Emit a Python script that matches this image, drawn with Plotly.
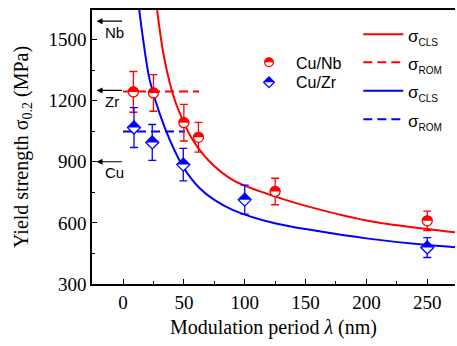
import plotly.graph_objects as go

# ---------------- data ----------------
lam_nb = [8.5, 25, 50, 62, 125, 250]
sig_nb = [1243, 1238, 1092, 1020, 754, 610]
err_nb = [100, 90, 90, 73, 65, 48]

lam_zr = [9, 24, 49.5, 100, 250]
sig_zr = [1068, 995, 886, 714, 479]
err_zr = [98, 88, 80, 71, 49]

cls_nb_x = [28, 34.3, 42.5, 49.3, 56.2, 69.9, 90.4, 124.7, 145, 200, 250, 275]
cls_nb_y = [1645, 1395, 1203, 1102, 1018, 909, 810, 730, 692, 612, 570, 552]

cls_zr_x = [13.3, 16.4, 21.9, 30.2, 38.4, 49.3, 63, 75, 90.4, 124.7, 160, 200, 250, 275]
cls_zr_y = [1645, 1506, 1302, 1135, 1007, 876, 770, 713, 663, 598, 560, 524, 491, 480]

rom_nb_x = [0, 62.5]
rom_nb_y = [1245, 1245]
rom_zr_x = [0, 51]
rom_zr_y = [1048, 1048]

ref_labels = ["Nb", "Zr", "Cu"]
ref_vals = [1590, 1250, 900]

x_ticks = [0, 50, 100, 150, 200, 250]
y_ticks = [300, 600, 900, 1200, 1500]

RED = "#FF0000"
BLUE = "#0000FF"
SERIF = "Liberation Serif"
SANS = "Liberation Sans"

fig = go.Figure()

# ROM dashed lines
fig.add_trace(go.Scatter(x=rom_nb_x, y=rom_nb_y, mode="lines",
                         line=dict(color=RED, width=2, dash="9px,5px"), showlegend=False))
fig.add_trace(go.Scatter(x=rom_zr_x, y=rom_zr_y, mode="lines",
                         line=dict(color=BLUE, width=2, dash="9px,5px"), showlegend=False))
# CLS curves
fig.add_trace(go.Scatter(x=cls_nb_x, y=cls_nb_y, mode="lines", line_shape="spline",
                         line=dict(color=RED, width=2), showlegend=False))
fig.add_trace(go.Scatter(x=cls_zr_x, y=cls_zr_y, mode="lines", line_shape="spline",
                         line=dict(color=BLUE, width=2), showlegend=False))
# data points with error bars (open markers)
fig.add_trace(go.Scatter(x=lam_nb, y=sig_nb, mode="markers",
                         marker=dict(symbol="circle", size=10, color="white",
                                     line=dict(color=RED, width=1.3)),
                         error_y=dict(type="data", array=err_nb, color=RED, thickness=1.3, width=4),
                         showlegend=False))
fig.add_trace(go.Scatter(x=lam_zr, y=sig_zr, mode="markers",
                         marker=dict(symbol="diamond", size=10, color="white",
                                     line=dict(color=BLUE, width=1.3)),
                         error_y=dict(type="data", array=err_zr, color=BLUE, thickness=1.3, width=4),
                         showlegend=False))


def half_circle(r):
    k = 0.5523 * r
    return (f"M {-r},0 C {-r},{k} {-k},{r} 0,{r} "
            f"C {k},{r} {r},{k} {r},0 Z")


def half_diamond(r):
    return f"M {-r},0 L 0,{r} L {r},0 Z"


shapes = []
for xv, yv in zip(lam_nb, sig_nb):
    shapes.append(dict(type="path", xref="x", yref="y", xsizemode="pixel", ysizemode="pixel",
                       xanchor=xv, yanchor=yv, path=half_circle(5.3),
                       fillcolor=RED, line=dict(width=0), layer="above"))
for xv, yv in zip(lam_zr, sig_zr):
    shapes.append(dict(type="path", xref="x", yref="y", xsizemode="pixel", ysizemode="pixel",
                       xanchor=xv, yanchor=yv, path=half_diamond(6.6),
                       fillcolor=BLUE, line=dict(width=0), layer="above"))

# ---- manual legend (markers) ----
L_W, L_H, L_L, L_T = 363.0, 274.0, 92.0, 10.0


def px(xp):
    return (xp - L_L) / L_W


def py(yp):
    return (L_T + L_H - yp) / L_H


# Cu/Nb marker
shapes.append(dict(type="circle", xref="paper", yref="paper", xsizemode="pixel", ysizemode="pixel",
                   xanchor=px(269), yanchor=py(62.3), x0=-4.3, x1=4.3, y0=-4.3, y1=4.3,
                   fillcolor="white", line=dict(color=RED, width=1.3), layer="above"))
shapes.append(dict(type="path", xref="paper", yref="paper", xsizemode="pixel", ysizemode="pixel",
                   xanchor=px(269), yanchor=py(62.3), path=half_circle(4.3),
                   fillcolor=RED, line=dict(width=0), layer="above"))
# Cu/Zr marker
shapes.append(dict(type="path", xref="paper", yref="paper", xsizemode="pixel", ysizemode="pixel",
                   xanchor=px(269), yanchor=py(82.3), path="M -5.3,0 L 0,5.3 L 5.3,0 L 0,-5.3 Z",
                   fillcolor="white", line=dict(color=BLUE, width=1.3), layer="above"))
shapes.append(dict(type="path", xref="paper", yref="paper", xsizemode="pixel", ysizemode="pixel",
                   xanchor=px(269), yanchor=py(82.3), path=half_diamond(5.3),
                   fillcolor=BLUE, line=dict(width=0), layer="above"))

# legend lines
leg_lines = [(34.3, RED, "solid", "CLS"), (62.3, RED, "9px,5px", "ROM"),
             (90.7, BLUE, "solid", "CLS"), (119.3, BLUE, "9px,5px", "ROM")]
annotations = []
for yp, col, dash, lab in leg_lines:
    shapes.append(dict(type="line", xref="paper", yref="paper",
                       x0=px(363.3), x1=px(403.3), y0=py(yp), y1=py(yp),
                       line=dict(color=col, width=2, dash=dash)))
    annotations.append(dict(xref="paper", yref="paper", x=px(406), y=py(yp + 3),
                            xanchor="left", yanchor="middle", showarrow=False,
                            text=f"σ<sub><span style='font-size:10px'>{lab}</span></sub>",
                            font=dict(family=SANS, size=17, color="black")))

annotations.append(dict(xref="paper", yref="paper", x=px(294), y=py(63), xanchor="left",
                        yanchor="middle", showarrow=False, text="Cu/Nb",
                        font=dict(family=SANS, size=16, color="black")))
annotations.append(dict(xref="paper", yref="paper", x=px(294), y=py(83), xanchor="left",
                        yanchor="middle", showarrow=False, text="Cu/Zr",
                        font=dict(family=SANS, size=16, color="black")))

# reference arrows (bulk values)
for lab, val in zip(ref_labels, ref_vals):
    annotations.append(dict(xref="x", yref="y", x=-21.8, y=val, ax=27, ay=0, axref="pixel",
                            showarrow=True, arrowhead=2, arrowsize=1, arrowwidth=1.2,
                            arrowcolor="black", text=""))
    annotations.append(dict(xref="x", yref="y", x=-16.5, y=val, yshift=-11, xanchor="left",
                            yanchor="middle", showarrow=False, text=lab,
                            font=dict(family=SANS, size=15, color="black")))

# axis titles
annotations.append(dict(xref="paper", yref="paper", x=0.5, y=py(327), xanchor="center",
                        yanchor="middle", showarrow=False,
                        text="Modulation period <i>λ</i> (nm)",
                        font=dict(family=SERIF, size=20, color="black")))
annotations.append(dict(xref="paper", yref="paper", x=px(22), y=0.5, xanchor="center",
                        yanchor="middle", showarrow=False, textangle=-90,
                        text="Yield strength σ<sub>0.2</sub> (MPa)",
                        font=dict(family=SERIF, size=20, color="black")))

fig.update_layout(
    width=457, height=346,
    margin=dict(l=92, r=2, t=10, b=62, autoexpand=False),
    paper_bgcolor="white", plot_bgcolor="white",
    showlegend=False,
    shapes=shapes, annotations=annotations,
    xaxis=dict(range=[-25.5, 272.8], tickmode="array", tickvals=x_ticks, automargin=False,
               ticks="inside", ticklen=5, tickwidth=1.3, tickcolor="black",
               minor=dict(ticks="inside", ticklen=3, tickwidth=1.2, tickcolor="black",
                          tickmode="array", tickvals=[-25, 25, 75, 125, 175, 225, 275]),
               showline=True, linecolor="black", linewidth=1.5, mirror=True,
               showgrid=False, zeroline=False,
               tickfont=dict(family=SERIF, size=19, color="black")),
    yaxis=dict(range=[300, 1645], tickmode="array", tickvals=y_ticks, automargin=False,
               ticks="inside", ticklen=5, tickwidth=1.3, tickcolor="black",
               minor=dict(ticks="inside", ticklen=3, tickwidth=1.2, tickcolor="black",
                          tickmode="array", tickvals=[450, 750, 1050, 1350]),
               showline=True, linecolor="black", linewidth=1.5, mirror=False,
               showgrid=False, zeroline=False,
               tickfont=dict(family=SERIF, size=19, color="black")),
)

# remove the browser's default 8px page margin so the figure sits at the window origin
fig.write_html("out.html",
               config={"displayModeBar": False},
               post_script="document.body.style.margin='0px';document.body.style.overflow='hidden';")
